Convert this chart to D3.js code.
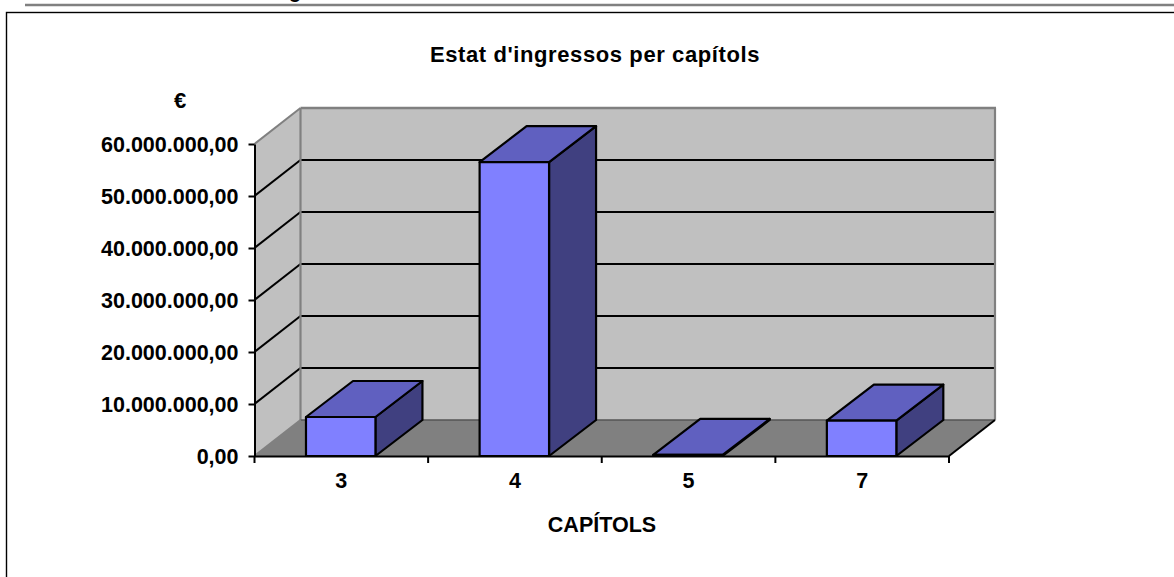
<!DOCTYPE html>
<html>
  <head>
    <meta charset="utf-8"/>
    <style>
    body {
      margin: 0;
      background: #fff;
      overflow: hidden;
    }
    text {
      font-family: "Liberation Sans", Arial, sans-serif;
      font-weight: bold;
      fill: #000;
    }
    </style>
  </head>
  <body>
    <script src="https://d3js.org/d3.v7.min.js"></script>
    <script>
    var categories = ["3", "4", "5", "7"];
    var values = [7500000, 56500000, 200000, 6800000];
    var yTicks = [0, 10000000, 20000000, 30000000, 40000000, 50000000, 60000000];

    var width = 1174, height = 577;
    var depthX = 46, depthY = 36, barDepthX = 47;

    var x = d3.scaleBand().domain(categories).range([254.5, 949]);
    var y = d3.scaleLinear().domain([0, 60000000]).range([456, 144]);
    var barWidth = x.bandwidth() * 0.4;

    var euro = d3.format(",.2f");
    function fmt(d) {
      return euro(d).replace(/,/g, "#").replace(".", ",").replace(/#/g, ".");
    }

    var svg = d3.select("body").append("svg")
        .attr("width", width)
        .attr("height", height);

    // top of the page the chart was cut out of
    svg.append("text").attr("x", 289).attr("y", 2).attr("font-size", 20).text("g")
        .attr("dy", "-0.2em");
    svg.append("line")
        .attr("x1", 25).attr("x2", width).attr("y1", 5).attr("y2", 5)
        .attr("stroke", "#808080").attr("stroke-width", 2.5);
    svg.append("rect")
        .attr("x", 6.5).attr("y", 12.5).attr("width", width).attr("height", height)
        .attr("fill", "#fff").attr("stroke", "#000").attr("stroke-width", 1.4);

    var x0 = x.range()[0], x1 = x.range()[1];
    var y0 = y(0), yTop = y(60000000);

    function poly(points, fill, stroke, sw) {
      return svg.append("polygon")
          .attr("points", points.map(function(p) { return p.join(","); }).join(" "))
          .attr("fill", fill)
          .attr("stroke", stroke || "none")
          .attr("stroke-width", sw || 0)
          .attr("stroke-linejoin", "round");
    }
    function seg(a, b, stroke, sw) {
      return svg.append("line")
          .attr("x1", a[0]).attr("y1", a[1]).attr("x2", b[0]).attr("y2", b[1])
          .attr("stroke", stroke).attr("stroke-width", sw);
    }

    // walls and floor
    poly([[x0 + depthX, yTop - depthY], [x1 + depthX, yTop - depthY], [x1 + depthX, y0 - depthY], [x0 + depthX, y0 - depthY]], "#c0c0c0");
    poly([[x0, yTop], [x0 + depthX, yTop - depthY], [x0 + depthX, y0 - depthY], [x0, y0]], "#c0c0c0");
    poly([[x0, y0], [x1, y0], [x1 + depthX, y0 - depthY], [x0 + depthX, y0 - depthY]], "#808080");

    // gridlines
    yTicks.slice(1, -1).forEach(function(d) {
      seg([x0, y(d)], [x0 + depthX, y(d) - depthY], "#000", 2);
      seg([x0 + depthX, y(d) - depthY], [x1 + depthX, y(d) - depthY], "#000", 2);
    });

    // wall edges
    seg([x0, yTop], [x0 + depthX, yTop - depthY], "#808080", 2);
    seg([x0 + depthX, yTop - depthY], [x1 + depthX + 1, yTop - depthY], "#808080", 2.4);
    seg([x0 + depthX, yTop - depthY], [x0 + depthX, y0 - depthY], "#808080", 2.2);
    seg([x1 + depthX, yTop - depthY], [x1 + depthX, y0 - depthY], "#808080", 2.2);
    seg([x0 + depthX, y0 - depthY], [x1 + depthX, y0 - depthY], "#555", 1.4);
    seg([x0, y0], [x0 + depthX, y0 - depthY], "#808080", 2);
    seg([x1, y0], [x1 + depthX, y0 - depthY], "#000", 2);

    // bars
    categories.forEach(function(c, i) {
      var left = x(c) + (x.bandwidth() - barWidth) / 2 - 0.6;
      var right = left + barWidth;
      var top = y(values[i]);
      poly([[right, y0], [right + barDepthX, y0 - depthY], [right + barDepthX, top - depthY], [right, top]], "#404080", "#000", 2.2);
      poly([[left, top], [right, top], [right + barDepthX, top - depthY], [left + barDepthX, top - depthY]], "#6060c0", "#000", 2.2);
      poly([[left, y0], [right, y0], [right, top], [left, top]], "#8080ff", "#000", 2.2);
    });

    // axes
    var yAxis = svg.append("g")
        .attr("transform", "translate(" + x0 + ",0)")
        .call(d3.axisLeft(y).tickValues(yTicks).tickFormat(fmt).tickSize(6).tickSizeOuter(0).tickPadding(10));
    yAxis.selectAll("line").attr("stroke", "#000").attr("stroke-width", 2);
    yAxis.select(".domain").attr("stroke", "#000").attr("stroke-width", 2);
    yAxis.selectAll("text").attr("font-size", 21.5).attr("font-family", null).attr("dy", "0.34em");

    var xAxis = svg.append("g")
        .attr("transform", "translate(0," + y0 + ")")
        .call(d3.axisBottom(x).tickSize(0).tickSizeOuter(0).tickPadding(17));
    xAxis.select(".domain").attr("stroke", "#000").attr("stroke-width", 2);
    xAxis.selectAll("text").attr("font-size", 21.5).attr("font-family", null);
    categories.concat([null]).forEach(function(c) {
      var px = c === null ? x1 : x(c);
      seg([px, y0], [px, y0 + 7], "#000", 2);
    });

    // titles
    svg.append("text").attr("x", 595).attr("y", 62).attr("text-anchor", "middle")
        .attr("font-size", 22).attr("letter-spacing", 0.6).text("Estat d'ingressos per capítols");
    svg.append("text").attr("x", 180).attr("y", 108).attr("text-anchor", "middle")
        .attr("font-size", 22).text("€");
    svg.append("text").attr("x", 602).attr("y", 532).attr("text-anchor", "middle")
        .attr("font-size", 21.5).text("CAPÍTOLS");
    </script>
  </body>
</html>
